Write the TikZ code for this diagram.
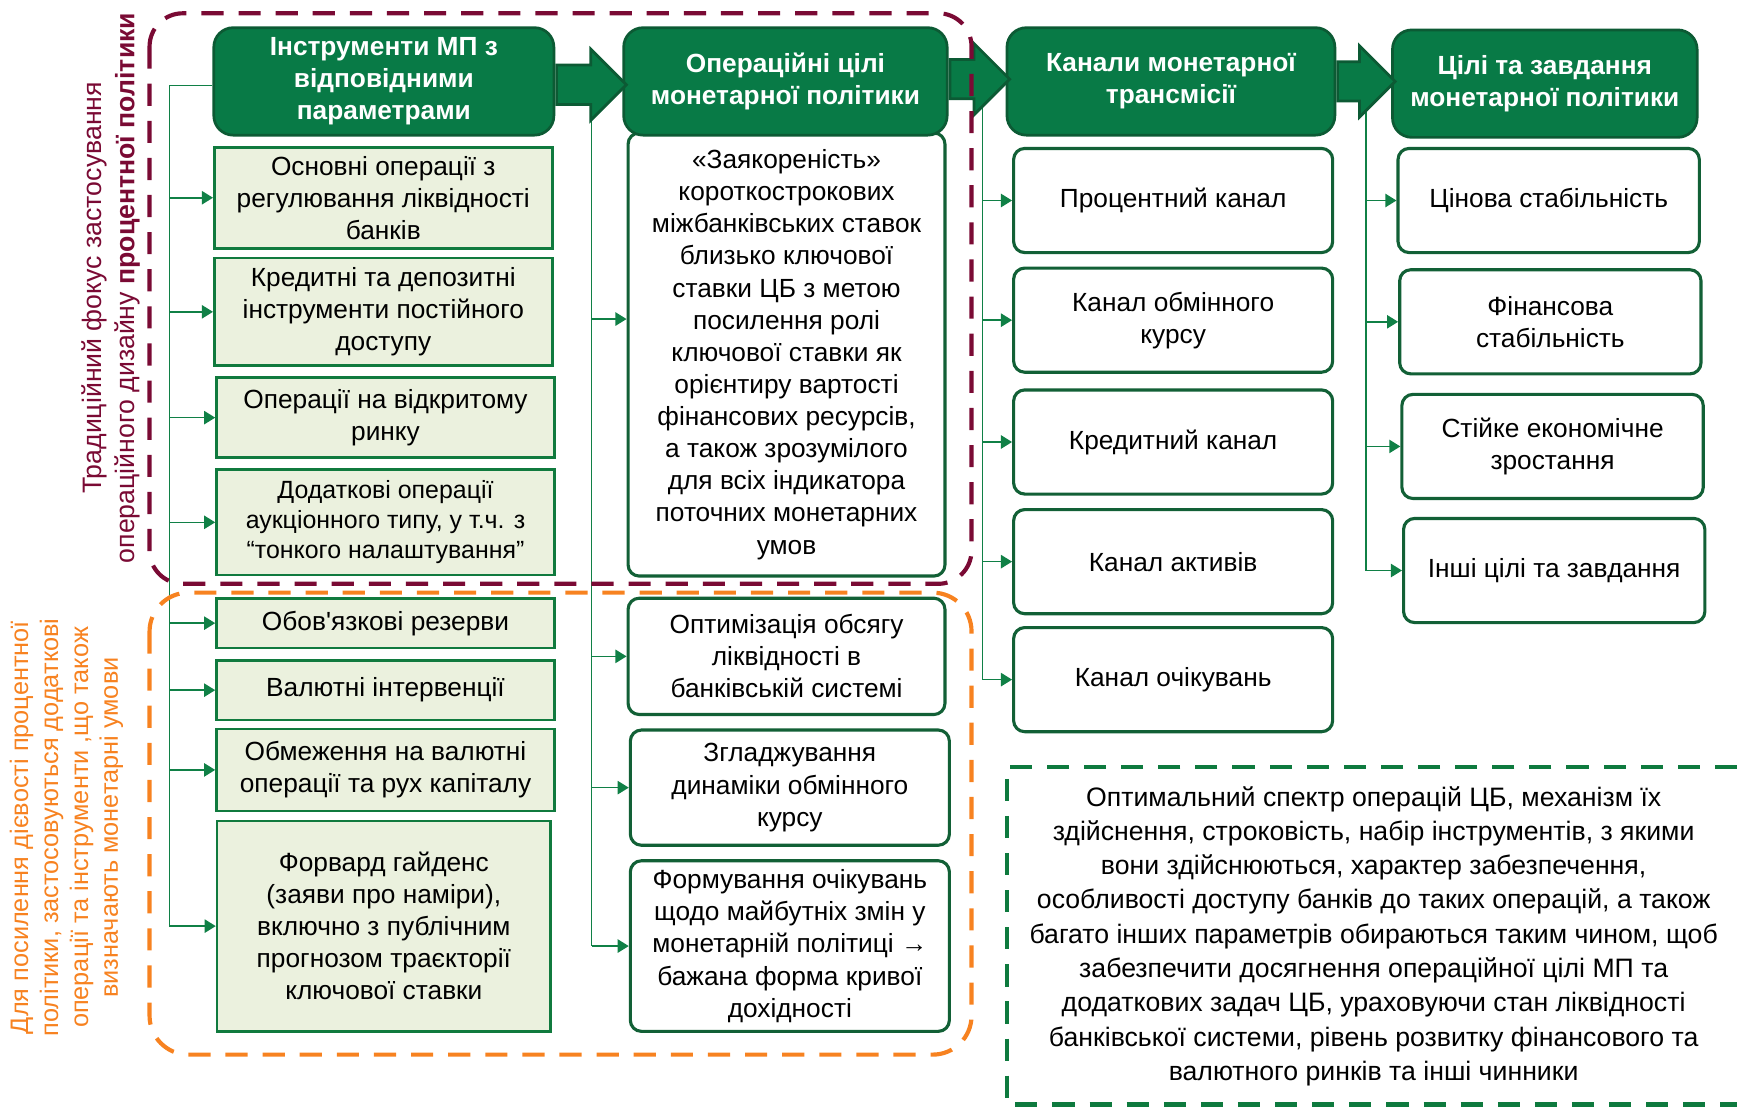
\documentclass[tikz,border=0pt]{standalone}
\usepackage{fontspec}
\setmainfont{Liberation Sans}
\usetikzlibrary{arrows.meta,shapes.arrows,calc}

\definecolor{hdrfill}{RGB}{8,122,70}
\definecolor{hdrline}{RGB}{12,90,52}
\definecolor{instfill}{RGB}{235,241,222}
\definecolor{instline}{RGB}{16,122,62}
\definecolor{boxline}{RGB}{18,96,54}
\definecolor{linkgreen}{RGB}{16,128,70}
\definecolor{maroonc}{RGB}{122,10,52}
\definecolor{orangec}{RGB}{247,130,32}
\definecolor{dashgreen}{RGB}{14,122,62}

\newcommand\boxfont{\fontsize{13.5}{16.5}\selectfont}

\pgfdeclarelayer{bg}
\pgfsetlayers{bg,main}

\tikzset{
  hdr/.style={draw=hdrline, line width=1.4pt, fill=hdrfill, rounded corners=3.5mm,
    text=white, align=center, inner sep=0pt, minimum height=19.4mm,
    font=\boxfont\bfseries},
  inst/.style={draw=instline, line width=1.4pt, fill=instfill, align=center,
    inner sep=0pt, minimum width=61mm, font=\boxfont},
  wbox/.style={draw=boxline, line width=1.6pt, fill=white, rounded corners=2mm,
    align=center, inner sep=0pt, font=\boxfont},
  link/.style={draw=linkgreen, line width=0.8pt},
  feed/.style={link, -{Triangle[length=2mm,width=2.4mm]}},
  bigarrow/.style={single arrow, draw=hdrline, line width=1.4pt, fill=hdrfill,
    inner xsep=0pt, inner ysep=3.3mm, single arrow head extend=2.9mm, anchor=tail},
  zone/.style={line width=0.75mm, dash pattern=on 4mm off 2.7mm}
}

\begin{document}
\begin{tikzpicture}[x=0.2mm, y=-0.2mm]
  \useasboundingbox (0,0) rectangle (1568,1000);

  % instruments
  \node [hdr, minimum width=61.4mm] (hdr1) at (346.5, 73.5)
    {Інструменти МП з\\відповідними\\параметрами};
  \node [inst, minimum height=18.2mm] (inst1) at (346, 178.5)
    {Основні операції з\\регулювання ліквідності\\банків};
  \node [inst, minimum height=19.4mm] (inst2) at (346, 281.5)
    {Кредитні та депозитні\\інструменти постійного\\доступу};
  \node [inst, minimum height=14.4mm] (inst3) at (348, 377)
    {Операції на відкритому\\ринку};
  \node [inst, minimum height=19mm, font=\fontsize{12.8}{15.4}\selectfont] (inst4) at (348, 471.5)
    {Додаткові операції\\аукціонного типу, у т.ч. з\\“тонкого налаштування”};
  \node [inst, minimum height=9mm] (inst5) at (348, 562.5)
    {Обов\textquotesingle язкові резерви};
  \node [inst, minimum height=10.8mm] (inst6) at (348, 623)
    {Валютні інтервенції};
  \node [inst, minimum height=14.8mm] (inst7) at (348, 695)
    {Обмеження на валютні\\операції та рух капіталу};
  \node [inst, minimum height=38mm, minimum width=60.2mm] (inst8) at (346.5, 836)
    {Форвард гайденс\\(заяви про наміри),\\включно з публічним\\прогнозом траєкторії\\ключової ставки};

  % operational goals
  \node [wbox, minimum width=57.2mm, minimum height=80mm] (ops1) at (710, 320)
    {«Заякореність»\\короткострокових\\міжбанківських ставок\\близько ключової\\ставки ЦБ з метою\\посилення ролі\\ключової ставки як\\орієнтиру вартості\\фінансових ресурсів,\\а також зрозумілого\\для всіх індикатора\\поточних монетарних\\умов};
  \node [hdr, minimum width=58.4mm] (hdr2) at (709, 73.5)
    {Операційні цілі\\монетарної політики};
  \node [wbox, minimum width=57.2mm, minimum height=21mm] (ops2) at (710, 592.5)
    {Оптимізація обсягу\\ліквідності в\\банківській системі};
  \node [wbox, minimum width=57.6mm, minimum height=20.8mm] (ops3) at (713, 711)
    {Згладжування\\динаміки обмінного\\курсу};
  \node [wbox, minimum width=57.6mm, minimum height=30.8mm] (ops4) at (713, 854)
    {Формування очікувань\\щодо майбутніх змін у\\монетарній політиці →\\бажана форма кривої\\дохідності};

  % transmission channels
  \node [hdr, minimum width=59.2mm] (hdr3) at (1057, 73.5)
    {Канали монетарної\\трансмісії};
  \node [wbox, minimum width=57.6mm, minimum height=18.8mm] (chan1) at (1059, 181)
    {Процентний канал};
  \node [wbox, minimum width=57.6mm, minimum height=18.8mm] (chan2) at (1059, 289)
    {Канал обмінного\\курсу};
  \node [wbox, minimum width=57.6mm, minimum height=18.8mm] (chan3) at (1059, 399)
    {Кредитний канал};
  \node [wbox, minimum width=57.6mm, minimum height=18.8mm] (chan4) at (1059, 507)
    {Канал активів};
  \node [wbox, minimum width=57.6mm, minimum height=18.8mm] (chan5) at (1059, 613.5)
    {Канал очікувань};

  % goals
  \node [hdr, minimum width=55mm] (hdr4) at (1394.5, 75.5)
    {Цілі та завдання\\монетарної політики};
  \node [wbox, minimum width=54.4mm, minimum height=18.8mm] (goal1) at (1398, 181)
    {Цінова стабільність};
  \node [wbox, minimum width=54.4mm, minimum height=18.8mm] (goal2) at (1399.5, 290.5)
    {Фінансова\\стабільність};
  \node [wbox, minimum width=54.4mm, minimum height=18.8mm] (goal3) at (1401.5, 403)
    {Стійке економічне\\зростання};
  \node [wbox, minimum width=54.4mm, minimum height=18.8mm] (goal4) at (1403, 515)
    {Інші цілі та завдання};

  % block arrows between the headers
  \node [bigarrow, minimum height=12.6mm] (arrA) at ([yshift=-0.6mm]hdr1.east) {};
  \node [bigarrow, minimum height=10.8mm] (arrB) at ([yshift=0.4mm]hdr2.east) {};
  \node [bigarrow, minimum height=10.4mm] (arrC) at (hdr3.east) {};

  \coordinate (bus1) at (153, 0);
  \coordinate (bus2) at (534, 0);
  \coordinate (bus3) at (887, 0);
  \coordinate (bus4) at (1233, 0);
  \coordinate (ops1in) at ([yshift=6.4mm]ops1.west);

  \begin{pgfonlayer}{bg}
    \draw [link] ([yshift=-0.7mm]hdr1.west) -| (bus1 |- inst8.west);
    \foreach \n in {1,...,8}
      \draw [feed] (bus1 |- inst\n.west) -- (inst\n.west);
    \draw [link] (bus2 |- arrA.south) -- (bus2 |- ops4.west);
    \draw [feed] (bus2 |- ops1in) -- (ops1in);
    \foreach \n in {2,3,4}
      \draw [feed] (bus2 |- ops\n.west) -- (ops\n.west);
    \draw [link] (bus3 |- arrB.south) -- (bus3 |- chan5.west);
    \foreach \n in {1,...,5}
      \draw [feed] (bus3 |- chan\n.west) -- (chan\n.west);
    \draw [link] (bus4 |- arrC.south) -- (bus4 |- goal4.west);
    \foreach \n in {1,...,4}
      \draw [feed] (bus4 |- goal\n.west) -- (goal\n.west);
  \end{pgfonlayer}

  % note
  \node [align=center, font=\fontsize{13.7}{17.6}\selectfont] (note) at (1240, 845)
    {Оптимальний спектр операцій ЦБ, механізм їх\\
     здійснення, строковість, набір інструментів, з якими\\
     вони здійснюються, характер забезпечення,\\
     особливості доступу банків до таких операцій, а також\\
     багато інших параметрів обираються таким чином, щоб\\
     забезпечити досягнення операційної цілі МП та\\
     додаткових задач ЦБ, ураховуючи стан ліквідності\\
     банківської системи, рівень розвитку фінансового та\\
     валютного ринків та інші чинники};

  % side captions
  \node [rotate=90, align=center, text=maroonc, font=\fontsize{13.7}{17}\selectfont] (focus) at (100, 260)
    {Традиційний фокус застосування\\операційного дизайну \textbf{процентної політики}};
  \node [rotate=90, align=center, text=orangec, font=\fontsize{13}{15.4}\selectfont] (extra) at (60, 747)
    {Для посилення дієвості процентної\\політики, застосовуються додаткові\\операції та інструменти ,що також\\визначають монетарні умови};

  % dashed zones
  \draw [zone, draw=maroonc, rounded corners=6mm] (135, 12) rectangle (877, 527);
  \draw [zone, draw=orangec, rounded corners=7mm] (135, 535) rectangle (877, 952);
  \draw [zone, draw=dashgreen] (1568, 692) -- (909, 692) -- (909, 997) -- (1568, 997);
\end{tikzpicture}
\end{document}
